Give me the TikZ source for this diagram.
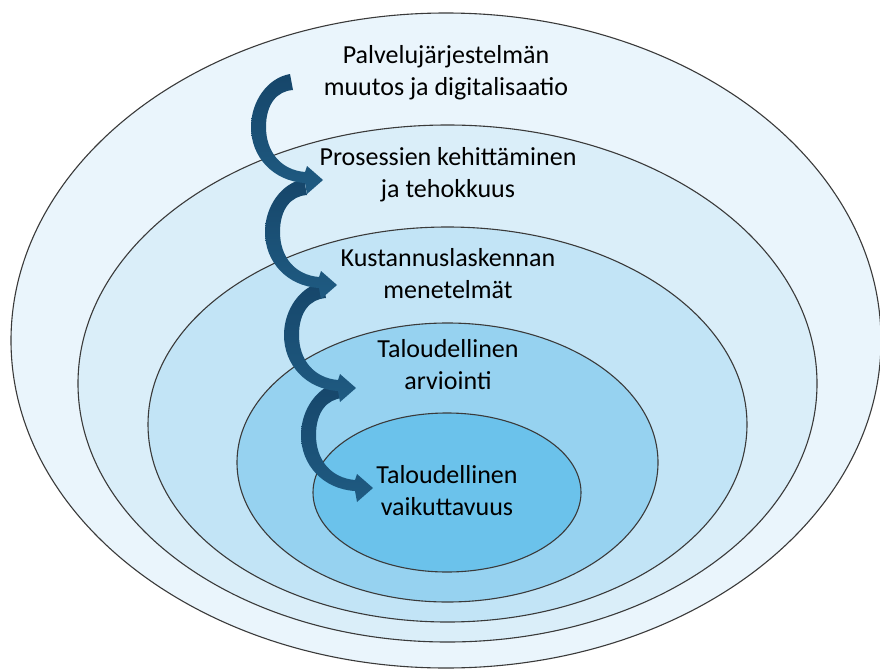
\documentclass[tikz,border=0pt]{standalone}
\usepackage{fontspec}
\setmainfont{Carlito}
\definecolor{ringA}{HTML}{EAF5FC}
\definecolor{ringB}{HTML}{DAEEF9}
\definecolor{ringC}{HTML}{C2E4F6}
\definecolor{ringD}{HTML}{96D2F0}
\definecolor{ringE}{HTML}{6BC2EB}
\definecolor{arrowdark}{HTML}{16466A}
\definecolor{arrowlight}{HTML}{1F5B82}
\definecolor{edgegray}{HTML}{3A3A3A}
\begin{document}
\begin{tikzpicture}[x=1pt,y=-1pt,
  ring/.style={draw=edgegray,line width=1.1pt},
  label/.style={align=center,font=\fontsize{26}{32}\selectfont,text=black,inner sep=0pt},
  curvearrow/.pic={
    \shade[top color=arrowdark,bottom color=arrowlight]
      (-1,-8) .. controls (-24,-4) and (-40,20) .. (-40,45)
              .. controls (-40,75) and (-18,99) .. (14,101)
      -- (16,112) -- (32,98) -- (16,84) -- (14,90)
              .. controls (-10,88) and (-25,70) .. (-25,45)
              .. controls (-25,22) and (-14,9) .. (2,8)
      -- cycle;
  }]
\useasboundingbox (0,0) rectangle (880,669);
\fill[white] (0,0) rectangle (880,669);

% nested rings, outermost first
\draw[ring,fill=ringA] (446,340.5) ellipse [x radius=435,y radius=327.5];
\draw[ring,fill=ringB] (447.5,383.5) ellipse [x radius=369.5,y radius=258.5];
\draw[ring,fill=ringC] (447.5,424.5) ellipse [x radius=299.5,y radius=197.5];
\draw[ring,fill=ringD] (447.5,462.5) ellipse [x radius=210.5,y radius=139.5];
\draw[ring,fill=ringE] (447,492.5) ellipse [x radius=134,y radius=79.5];

% curved arrows leading inward, lower ones underneath
\pic at (341,390) {curvearrow};
\pic at (324,290) {curvearrow};
\pic at (305,187) {curvearrow};
\pic at (291,82) {curvearrow};

% ring labels
\node[label] (t1) at (446,73) {Palvelujärjestelmän\\muutos ja digitalisaatio};
\node[label] (t2) at (448,175) {Prosessien kehittäminen\\ja tehokkuus};
\node[label] (t3) at (448,274) {Kustannuslaskennan\\menetelmät};
\node[label] (t4) at (448,365) {Taloudellinen\\arviointi};
\node[label] (t5) at (447,491) {Taloudellinen\\vaikuttavuus};
\end{tikzpicture}
\end{document}
